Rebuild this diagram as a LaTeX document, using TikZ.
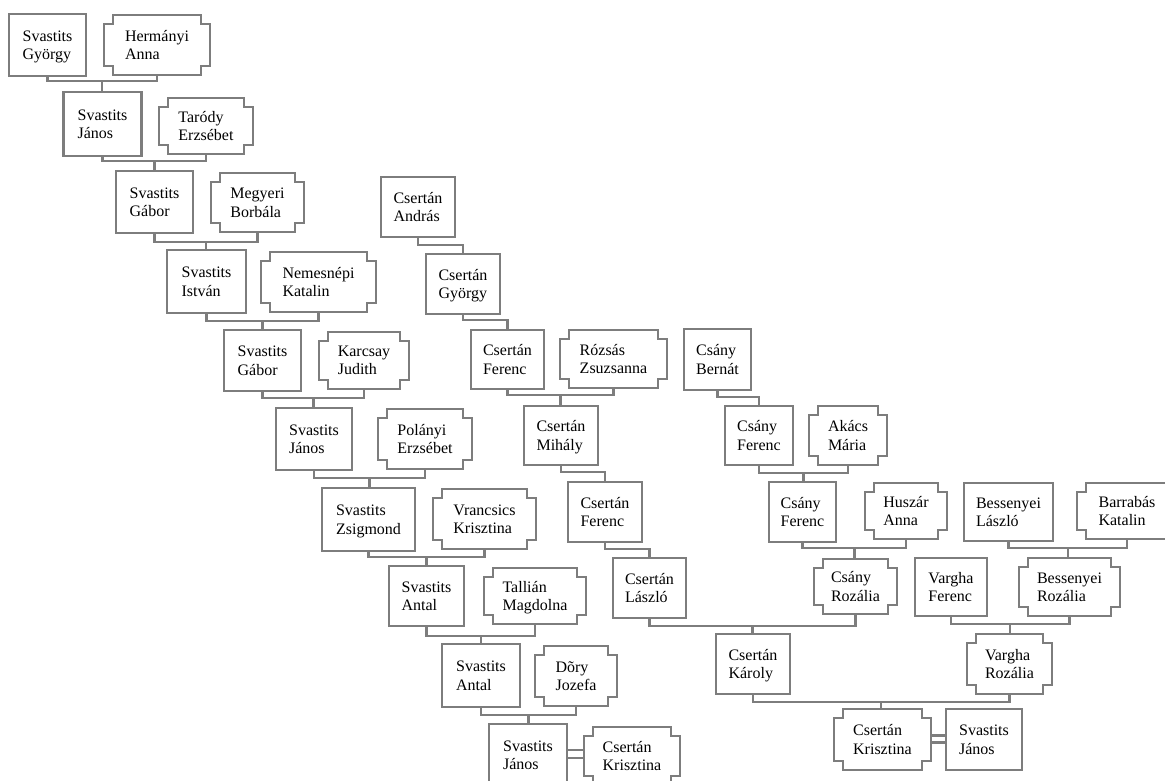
\documentclass[tikz,border=0pt]{standalone}
\usepackage{fontspec}
\setmainfont{Liberation Serif}
\definecolor{boxgray}{RGB}{125,125,125}
\newcommand\notchbox[1]{%
  \draw[boxline] ([xshift=9pt]#1.north west) -- ([xshift=-9pt]#1.north east)
   -- ([xshift=-9pt,yshift=-9pt]#1.north east) -- ([yshift=-9pt]#1.north east)
   -- ([yshift=9pt]#1.south east) -- ([xshift=-9pt,yshift=9pt]#1.south east)
   -- ([xshift=-9pt]#1.south east) -- ([xshift=9pt]#1.south west)
   -- ([xshift=9pt,yshift=9pt]#1.south west) -- ([yshift=9pt]#1.south west)
   -- ([yshift=-9pt]#1.north west) -- ([xshift=9pt,yshift=-9pt]#1.north west) -- cycle;}
\newcommand\mperson[6]{\node[male, minimum width={(#4-2)*1pt}, minimum height={(#5-2)*1pt}] (#1) at (#2,#3) {#6};}
\newcommand\fperson[6]{\node[female, minimum width={(#4-2)*1pt}, minimum height={(#5-2)*1pt}] (#1) at (#2,#3) {#6};\notchbox{#1}}
\begin{document}
\begin{tikzpicture}[x=1pt,y=-1pt,
  boxline/.style={draw=boxgray, line width=2.8pt},
  conn/.style={draw=boxgray, line width=2.4pt},
  person/.style={inner sep=0pt, outer sep=0pt, align=left, rectangle, text depth=0pt,
    font=\fontsize{16}{18.5}\selectfont},
  male/.style={person, boxline},
  female/.style={person}]
\fill[white] (0,0) rectangle (1165,780);
\useasboundingbox (0,0) rectangle (1165,780);

% Svastits line
\mperson{sgy}{47.5}{45}{79}{64}{Svastits\\György}
\fperson{han}{157}{45}{108}{62}{Hermányi\\Anna}
\mperson{sja1}{102.5}{124}{80}{66}{Svastits\\János}
\fperson{tar}{206}{126}{96}{58}{Taródy\\Erzsébet}
\mperson{sga1}{154.5}{202}{79}{64}{Svastits\\Gábor}
\fperson{meg}{257.5}{202.5}{95}{61}{Megyeri\\Borbála}
\mperson{sis}{206.5}{281.5}{81}{65}{Svastits\\István}
\fperson{nem}{318.5}{282}{117}{62}{Nemesnépi\\Katalin}
\mperson{sga2}{262.5}{360.5}{79}{63}{Svastits\\Gábor}
\fperson{kar}{364}{360.5}{92}{59}{Karcsay\\Judith}
\mperson{sja2}{314}{439}{78}{64}{Svastits\\János}
\fperson{pol}{425}{439}{96}{62}{Polányi\\Erzsébet}
\mperson{szs}{368.5}{519.5}{95}{65}{Svastits\\Zsigmond}
\fperson{vra}{484.5}{519}{105}{62}{Vrancsics\\Krisztina}
\mperson{san1}{426.5}{596}{77}{62}{Svastits\\Antal}
\fperson{tal}{535}{596}{104}{58}{Tallián\\Magdolna}
\mperson{san2}{481}{675.5}{80}{65}{Svastits\\Antal}
\fperson{dor}{576}{676}{84}{62}{Dõry\\Jozefa}
\mperson{sja3}{528}{755}{80}{64}{Svastits\\János}
\fperson{ckra}{632}{756}{98}{60}{Csertán\\Krisztina}

% Csertan line
\mperson{can}{418}{207}{76}{62}{Csertán\\András}
\mperson{cgy}{463}{284}{76}{62}{Csertán\\György}
\mperson{cfea}{507.5}{359.5}{75}{61}{Csertán\\Ferenc}
\fperson{roz}{613.5}{359}{109}{60}{Rózsás\\Zsuzsanna}
\mperson{cmi}{561}{435.5}{76}{61}{Csertán\\Mihály}
\mperson{cfeb}{605}{512}{76}{62}{Csertán\\Ferenc}
\mperson{cla}{649.5}{588}{75}{62}{Csertán\\László}
\fperson{cro}{855.5}{586.5}{85}{57}{Csány\\Rozália}
\mperson{cka}{753}{664}{76}{62}{Csertán\\Károly}
\fperson{vro}{1009.5}{664}{87}{62}{Vargha\\Rozália}
\fperson{ckrb}{882.5}{739.5}{99}{63}{Csertán\\Krisztina}
\mperson{sjb}{984}{739.5}{78}{63}{Svastits\\János}

% Csany line
\mperson{cbe}{717.5}{359.5}{69}{63}{Csány\\Bernát}
\mperson{cfec}{759}{435.5}{70}{61}{Csány\\Ferenc}
\fperson{aka}{848}{435.5}{80}{61}{Akács\\Mária}
\mperson{cfed}{802.5}{512}{69}{62}{Csány\\Ferenc}
\fperson{hus}{906}{511}{84}{58}{Huszár\\Anna}
\mperson{bla}{1008.5}{512}{91}{60}{Bessenyei\\László}
\fperson{bka}{1127}{511}{102}{58}{Barrabás\\Katalin}
\mperson{vfe}{951}{587}{74}{60}{Vargha\\Ferenc}
\fperson{bro}{1069.5}{587}{103}{60}{Bessenyei\\Rozália}

% couple bars
\coordinate (u1) at (102,81);
\coordinate (u2) at (154.5,161);
\coordinate (u3) at (206,242);
\coordinate (u4) at (262.5,321);
\coordinate (u5) at (313.5,398);
\coordinate (u6) at (369.5,478);
\coordinate (u7) at (426.5,557);
\coordinate (u8) at (481,636);
\coordinate (u9) at (528.5,715);
\coordinate (u10) at (560.5,395);
\coordinate (u11) at (752.5,626);
\coordinate (u12) at (881,702);
\coordinate (u13) at (803.5,473);
\coordinate (u14) at (854.5,548);
\coordinate (u15) at (1068,548);
\coordinate (u16) at (1010,624);

\foreach \a/\b/\u/\c in {sgy/han/u1/sja1, sja1/tar/u2/sga1, sga1/meg/u3/sis,
  sis/nem/u4/sga2, sga2/kar/u5/sja2, sja2/pol/u6/szs, szs/vra/u7/san1,
  san1/tal/u8/san2, san2/dor/u9/sja3, cfea/roz/u10/cmi, cla/cro/u11/cka,
  cka/vro/u12/ckrb, cfec/aka/u13/cfed, cfed/hus/u14/cro, bla/bka/u15/bro,
  vfe/bro/u16/vro}{
  \draw[conn] (\a.south) |- (\u) -| (\b.south);
  \draw[conn] (\u) -- (\u |- \c.north);
}

% single-parent elbows
\draw[conn] (can.south) -- ++(0,8) -| (cgy.north);
\draw[conn] (cgy.south) -- ++(0,6) -| (cfea.north);
\draw[conn] (cmi.south) -- ++(0,7) -| (cfeb.north);
\draw[conn] (cfeb.south) -- ++(0,7) -| (cla.north);
\draw[conn] (cbe.south) -- ++(0,7) -| (cfec.north);

% marriages
\draw[conn] ([yshift=5pt]sja3.east) -- ([yshift=5pt]sja3.east -| ckra.west);
\draw[conn] ([yshift=-3pt]sja3.east) -- ([yshift=-3pt]sja3.east -| ckra.west);
\draw[conn] ([yshift=4pt]ckrb.east) -- ([yshift=4pt]ckrb.east -| sjb.west);
\draw[conn] ([yshift=-3pt]ckrb.east) -- ([yshift=-3pt]ckrb.east -| sjb.west);
\end{tikzpicture}
\end{document}
